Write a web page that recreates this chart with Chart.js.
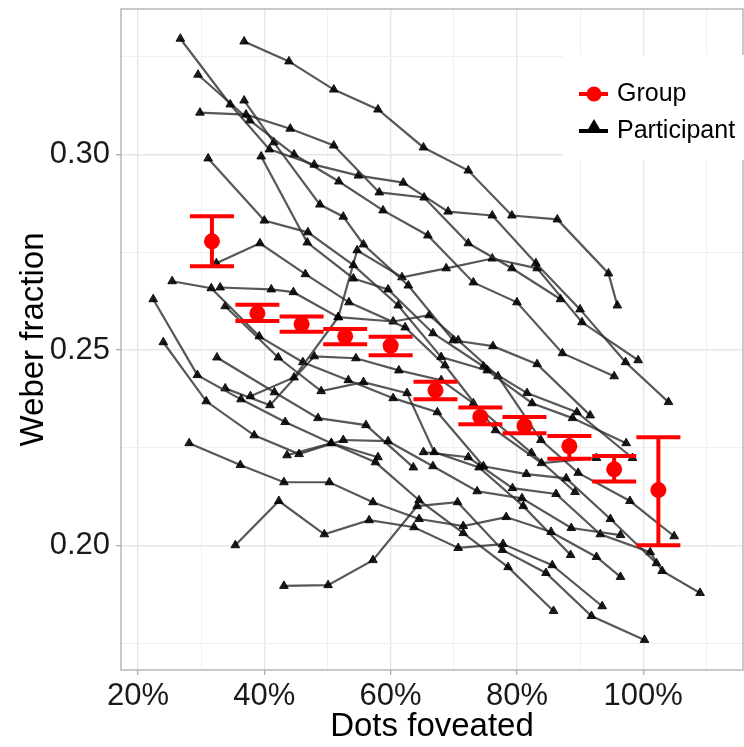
<!DOCTYPE html>
<html>
<head>
<meta charset="utf-8">
<script src="https://cdn.jsdelivr.net/npm/chart.js@4.4.1/dist/chart.umd.min.js"></script>
<style>
  html, body { margin: 0; padding: 0; background: #fff; }
  #wrap { width: 744px; height: 747px; }
</style>
</head>
<body>
<div id="wrap"><canvas id="chart" width="744" height="747"></canvas></div>
<script>
// group means, x = dots foveated (%), y = Weber fraction
const groupX  = [31.7, 38.9, 45.9, 52.8, 60.0, 67.1, 74.2, 81.2, 88.3, 95.4, 102.4];
const groupY  = [0.2778, 0.2594, 0.2566, 0.2535, 0.2511, 0.2397, 0.2329, 0.2306, 0.2254, 0.2195, 0.2142];
const groupLo = [0.2714, 0.2574, 0.2547, 0.2515, 0.2487, 0.2374, 0.2310, 0.2287, 0.2222, 0.2164, 0.2001];
const groupHi = [0.2842, 0.2616, 0.2586, 0.2554, 0.2534, 0.2419, 0.2353, 0.2329, 0.2280, 0.2229, 0.2277];

// participants
const p01x = [36.8, 43.9, 51.0, 58.0, 65.2, 72.3, 79.2, 86.4, 94.5, 95.9];
const p01y = [0.3289, 0.3238, 0.3166, 0.3115, 0.3018, 0.2959, 0.2844, 0.2834, 0.2696, 0.2614];
const p02x = [29.8, 37.1, 44.1, 51.0, 58.2, 65.3, 72.3, 79.2, 86.9];
const p02y = [0.3107, 0.3102, 0.3066, 0.3023, 0.2903, 0.2890, 0.2773, 0.2709, 0.2630];
const p03x = [26.7, 34.6, 40.8, 47.9, 54.9, 62.0, 69.1, 76.1, 83.0, 90.0, 97.2, 104.0];
const p03y = [0.3296, 0.3128, 0.3013, 0.2974, 0.2946, 0.2928, 0.2854, 0.2844, 0.2722, 0.2604, 0.2469, 0.2367];
const p04x = [29.5, 37.7, 44.7, 51.8, 58.8, 65.9, 73.1, 80.0, 87.2, 95.4];
const p04y = [0.3204, 0.3087, 0.3000, 0.2931, 0.2857, 0.2793, 0.2673, 0.2622, 0.2492, 0.2433];
const p05x = [36.8, 41.5, 48.8, 52.5, 55.7, 62.8, 69.9, 76.2, 83.2, 91.6];
const p05y = [0.3138, 0.3031, 0.2872, 0.2841, 0.2770, 0.2665, 0.2525, 0.2510, 0.2464, 0.2333];
const p06x = [31.1, 40.0, 46.9, 54.1, 61.2, 68.0, 75.3, 82.4, 88.8, 97.3];
const p06y = [0.2990, 0.2831, 0.2801, 0.2717, 0.2614, 0.2482, 0.2448, 0.2364, 0.2326, 0.2262];
const p07x = [39.5, 46.8, 54.1, 59.6, 66.7, 74.7, 81.6, 89.5, 98.3];
const p07y = [0.2995, 0.2775, 0.2683, 0.2655, 0.2543, 0.2458, 0.2390, 0.2341, 0.2224];
const p08x = [32.4, 39.3, 46.5, 53.4, 62.3, 68.6, 76.6, 83.9, 92.6];
const p08y = [0.2722, 0.2773, 0.2694, 0.2622, 0.2558, 0.2461, 0.2295, 0.2211, 0.2224];
const p09x = [37.8, 44.7, 51.7, 54.7, 61.8, 68.8, 76.1, 83.2, 90.3, 99.2];
const p09y = [0.2382, 0.2430, 0.2584, 0.2755, 0.2686, 0.2709, 0.2734, 0.2709, 0.2571, 0.2474];
const p10x = [22.4, 29.4, 36.3, 43.3, 50.6, 57.6, 64.5, 71.5, 78.6, 85.8];
const p10y = [0.2630, 0.2436, 0.2374, 0.2316, 0.2262, 0.2213, 0.2116, 0.2032, 0.1945, 0.1833];
const p11x = [24.0, 30.8, 38.4, 45.5, 52.5, 59.6, 66.7, 73.7, 80.8, 88.6, 96.4];
const p11y = [0.2520, 0.2369, 0.2282, 0.2234, 0.2270, 0.2267, 0.2203, 0.2139, 0.2121, 0.2045, 0.2027];
const p12x = [28.1, 36.2, 43.1, 50.3, 57.2, 64.5, 71.5, 78.3, 85.4, 92.6, 96.4];
const p12y = [0.2262, 0.2206, 0.2162, 0.2162, 0.2111, 0.2068, 0.2050, 0.2073, 0.2035, 0.1971, 0.1920];
const p13x = [35.4, 42.3, 49.5, 56.6, 63.7, 70.7, 77.8, 85.6, 93.5];
const p13y = [0.2001, 0.2114, 0.2029, 0.2065, 0.2047, 0.1994, 0.2004, 0.1950, 0.1845];
const p14x = [43.1, 50.1, 57.2, 64.2, 70.6, 77.7, 84.6, 91.8, 100.2];
const p14y = [0.1897, 0.1899, 0.1963, 0.2101, 0.2111, 0.1989, 0.1930, 0.1820, 0.1759];
const p15x = [25.4, 31.6, 39.2, 46.1, 53.3, 60.4, 67.4, 74.7, 81.5, 87.8, 94.8, 102.1];
const p15y = [0.2676, 0.2658, 0.2535, 0.2469, 0.2423, 0.2377, 0.2341, 0.2203, 0.2183, 0.2172, 0.2068, 0.1955];
const p16x = [33.0, 41.1, 44.6, 51.7, 60.4, 66.1, 70.7, 77.0, 83.8, 89.7, 97.9, 104.9];
const p16y = [0.2660, 0.2655, 0.2648, 0.2584, 0.2573, 0.2589, 0.2525, 0.2433, 0.2270, 0.2186, 0.2114, 0.2024];
const p17x = [33.8, 42.2, 49.0, 55.7, 62.6, 66.9, 74.0, 81.0, 88.5];
const p17y = [0.2612, 0.2481, 0.2395, 0.2418, 0.2390, 0.2239, 0.2200, 0.2101, 0.1976];
const p18x = [32.5, 41.6, 48.5, 56.1, 63.6];
const p18y = [0.2481, 0.2392, 0.2326, 0.2308, 0.2200];
const p19x = [43.6, 50.6, 58.0];
const p19y = [0.2231, 0.2262, 0.2226];
const p20x = [65.2, 72.3, 79.3, 86.2, 93.2, 101.1, 103.0, 109.0];
const p20y = [0.2239, 0.2226, 0.2147, 0.2132, 0.2029, 0.1983, 0.1935, 0.1879];
const p21x = [33.8, 40.9, 47.9, 54.5, 61.3, 68.0, 73.1, 82.3, 89.2];
const p21y = [0.2402, 0.2359, 0.2484, 0.2479, 0.2448, 0.2423, 0.2364, 0.2237, 0.2137];

const participants = [
  [p01x, p01y], [p02x, p02y], [p03x, p03y], [p04x, p04y], [p05x, p05y],
  [p06x, p06y], [p07x, p07y], [p08x, p08y], [p09x, p09y], [p10x, p10y],
  [p11x, p11y], [p12x, p12y], [p13x, p13y], [p14x, p14y], [p15x, p15y],
  [p16x, p16y], [p17x, p17y], [p18x, p18y], [p19x, p19y], [p20x, p20y],
  [p21x, p21y]
];

const xTicks = [20, 30, 40, 50, 60, 70, 80, 90, 100, 110];
const yTicks = [0.175, 0.2, 0.225, 0.25, 0.275, 0.3, 0.325];

const GRID_MAJOR = '#e6e6e6';
const GRID_MINOR = '#f0f0f0';
const FRAME = '#b3b3b3';
const RED = '#ff0000';

const isMajorX = v => v % 20 === 0;
const isMajorY = v => Math.abs(v * 20 - Math.round(v * 20)) < 1e-6;

Chart.defaults.font.family = '"Liberation Sans", Arial, sans-serif';
Chart.defaults.animation = false;

const datasets = participants.map(([xs, ys]) => ({
  data: xs.map((x, i) => ({ x: x, y: ys[i] })),
  showLine: true,
  borderColor: 'rgba(45,45,45,0.8)',
  borderWidth: 2.2,
  pointStyle: 'triangle',
  pointRadius: 5,
  pointBackgroundColor: 'rgba(0,0,0,0.88)',
  pointBorderColor: 'rgba(0,0,0,0.88)',
  pointBorderWidth: 1,
  order: 2
}));

datasets.push({
  data: groupX.map((x, i) => ({ x: x, y: groupY[i] })),
  showLine: false,
  pointStyle: 'circle',
  pointRadius: 8,
  pointBackgroundColor: RED,
  pointBorderColor: RED,
  pointBorderWidth: 0,
  order: 1
});

// panel frame, error bars and legend box
const decor = {
  id: 'decor',
  beforeDatasetsDraw(chart) {
    const { ctx, chartArea: a } = chart;
    ctx.save();
    ctx.strokeStyle = FRAME;
    ctx.lineWidth = 1.4;
    ctx.strokeRect(a.left, a.top, a.right - a.left, a.bottom - a.top);
    ctx.restore();
  },
  afterDatasetsDraw(chart) {
    const { ctx, chartArea: a, scales: { x, y } } = chart;
    ctx.save();
    ctx.strokeStyle = RED;
    ctx.lineWidth = 4;
    groupX.forEach((gx, i) => {
      const px = x.getPixelForValue(gx);
      const lo = y.getPixelForValue(groupLo[i]);
      const hi = y.getPixelForValue(groupHi[i]);
      ctx.beginPath();
      ctx.moveTo(px, lo); ctx.lineTo(px, hi);
      ctx.moveTo(px - 22, lo); ctx.lineTo(px + 22, lo);
      ctx.moveTo(px - 22, hi); ctx.lineTo(px + 22, hi);
      ctx.stroke();
    });

    // legend
    const bx = a.right - 180, by = a.top + 46;
    ctx.fillStyle = '#fff';
    ctx.fillRect(bx, by, 181, 105);

    ctx.lineWidth = 4;
    ctx.strokeStyle = RED;
    ctx.beginPath(); ctx.moveTo(bx + 16, by + 39); ctx.lineTo(bx + 45, by + 39); ctx.stroke();
    ctx.fillStyle = RED;
    ctx.beginPath(); ctx.arc(bx + 31, by + 39, 7.5, 0, Math.PI * 2); ctx.fill();

    ctx.strokeStyle = '#000';
    ctx.beginPath(); ctx.moveTo(bx + 16, by + 76); ctx.lineTo(bx + 45, by + 76); ctx.stroke();
    ctx.fillStyle = '#000';
    ctx.beginPath();
    ctx.moveTo(bx + 31, by + 64);
    ctx.lineTo(bx + 24, by + 76);
    ctx.lineTo(bx + 38, by + 76);
    ctx.closePath(); ctx.fill();

    ctx.font = '25px "Liberation Sans", Arial, sans-serif';
    ctx.textBaseline = 'middle';
    ctx.textAlign = 'left';
    ctx.fillText('Group', bx + 54, by + 39);
    ctx.fillText('Participant', bx + 54, by + 76);
    ctx.restore();
  }
};

new Chart(document.getElementById('chart'), {
  type: 'scatter',
  data: { datasets: datasets },
  options: {
    responsive: false,
    devicePixelRatio: 1,
    layout: { autoPadding: false, padding: { top: 9, right: 1, left: 0, bottom: 0 } },
    plugins: { legend: { display: false }, tooltip: { enabled: false } },
    scales: {
      x: {
        type: 'linear',
        min: 17.3,
        max: 115.8,
        afterBuildTicks: s => { s.ticks = xTicks.map(v => ({ value: v })); },
        afterFit: s => { s.height = 77; s.paddingLeft = 0; s.paddingRight = 0; },
        border: { display: false },
        grid: {
          color: c => isMajorX(c.tick.value) ? GRID_MAJOR : GRID_MINOR,
          lineWidth: c => isMajorX(c.tick.value) ? 1.4 : 1,
          tickColor: c => isMajorX(c.tick.value) ? FRAME : 'rgba(0,0,0,0)',
          tickLength: 5
        },
        ticks: {
          autoSkip: false,
          maxRotation: 0,
          padding: 3,
          color: '#1a1a1a',
          font: { size: 31 },
          callback: v => isMajorX(v) ? v + '%' : ''
        },
        title: {
          display: true,
          text: 'Dots foveated',
          color: '#000',
          font: { size: 33 },
          padding: { top: 0, bottom: 0 }
        }
      },
      y: {
        type: 'linear',
        min: 0.1682,
        max: 0.3372,
        afterBuildTicks: s => { s.ticks = yTicks.map(v => ({ value: v })); },
        afterFit: s => { s.width = 121; s.paddingTop = 0; s.paddingBottom = 0; },
        border: { display: false },
        grid: {
          color: c => isMajorY(c.tick.value) ? GRID_MAJOR : GRID_MINOR,
          lineWidth: c => isMajorY(c.tick.value) ? 1.4 : 1,
          tickColor: c => isMajorY(c.tick.value) ? FRAME : 'rgba(0,0,0,0)',
          tickLength: 5
        },
        ticks: {
          autoSkip: false,
          padding: 6,
          color: '#1a1a1a',
          font: { size: 31 },
          callback: v => isMajorY(v) ? v.toFixed(2) : ''
        },
        title: {
          display: true,
          text: 'Weber fraction',
          color: '#000',
          font: { size: 33 },
          padding: { top: 14, bottom: 0 }
        }
      }
    }
  },
  plugins: [decor]
});
</script>
</body>
</html>
